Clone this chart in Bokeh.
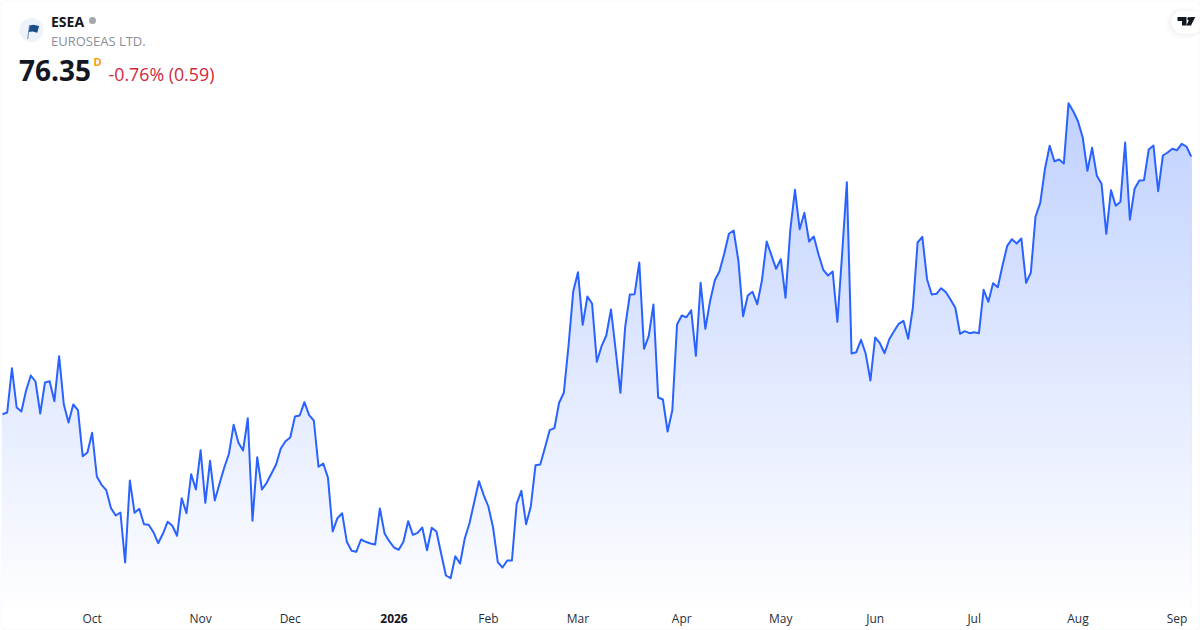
from bokeh.plotting import figure
from bokeh.models import Range1d, FixedTicker, Label, BoxAnnotation, PolyAnnotation
from bokeh.embed import file_html
from bokeh.resources import INLINE
import numpy as np

close = [50.58,50.75,55.18,51.25,50.85,52.95,54.45,53.85,50.65,53.75,53.88,51.88,56.38,51.55,49.75,51.55,50.98,46.38,46.75,48.72,
44.35,43.52,42.98,41.18,40.45,40.75,35.75,43.95,40.72,41.12,39.58,39.52,38.78,37.68,38.62,39.82,39.42,38.42,42.18,40.68,
44.58,43.05,46.98,41.72,45.92,41.95,43.62,45.22,46.62,49.52,47.75,46.95,50.18,39.92,46.28,43.05,43.72,44.62,45.55,47.15,
47.88,48.25,50.35,50.45,51.78,50.48,49.95,45.32,45.65,44.22,38.85,40.18,40.68,37.82,36.92,36.82,38.05,37.82,37.65,37.55,
41.15,38.65,37.88,37.25,37.02,37.82,39.88,38.52,38.72,39.25,36.98,39.22,38.85,36.62,34.45,34.18,36.38,35.65,38.15,39.68,
41.78,43.88,42.52,41.35,39.25,35.78,35.25,35.95,35.95,41.62,42.92,39.58,41.35,45.48,45.55,47.22,48.98,49.18,51.72,52.72,
57.45,62.88,64.78,59.52,62.35,61.62,55.82,57.38,58.45,61.05,56.95,52.72,59.28,62.55,62.58,65.75,57.12,58.38,61.55,52.25,
52.05,48.85,50.98,59.55,60.45,60.28,60.98,56.42,63.72,59.12,61.88,63.95,64.88,66.62,68.62,68.95,65.95,60.38,62.45,62.82,
61.58,63.95,67.85,66.48,65.12,66.08,62.22,68.95,73.02,69.08,70.72,67.85,68.35,66.55,65.02,64.45,64.85,59.82,66.62,73.78,
56.65,56.78,58.02,56.62,53.95,58.25,57.68,56.68,58.08,58.88,59.62,59.92,58.12,61.22,67.75,68.32,64.08,62.55,62.62,63.18,
62.78,62.02,61.22,58.62,58.88,58.68,58.78,58.68,63.02,61.82,63.68,63.28,65.45,67.42,68.08,67.65,68.15,63.72,64.72,70.35,
71.72,75.12,77.42,75.88,76.05,75.65,81.68,80.88,79.88,78.25,74.92,77.22,74.42,73.62,68.62,72.98,71.42,71.82,77.75,70.02,
73.12,73.95,73.98,77.05,77.45,72.88,76.45,76.75,77.12,76.98,77.62,77.35,76.35]

tick_positions = [19, 42, 61, 103, 122, 144, 165, 185, 206, 228, 249]
tick_labels = ["Oct", "Nov", "Dec", "Feb", "Mar", "Apr", "May", "Jun", "Jul", "Aug", "Sep"]
year_position = 83
year_label = "2026"

symbol = "ESEA"
company = "EUROSEAS LTD."
last_price = "76.35"
interval = "D"
change = "-0.76% (0.59)"

W, H = 1200, 630
PX_STEP, PX_OFF = 4.717, 2.0
def X(px): return (px - PX_OFF) / PX_STEP
def Y(py): return 91.95 - py / 10.0

p = figure(width=W, height=H, output_backend="svg", toolbar_location=None,
           x_range=Range1d(X(0), X(W)), y_range=Range1d(Y(H), Y(0)),
           min_border=0, min_border_left=0, min_border_right=0, min_border_top=0, min_border_bottom=0,
           background_fill_color="white", border_fill_color="white", outline_line_color=None)
p.styles = {"position": "absolute", "left": "0px", "top": "0px"}
p.grid.visible = False
p.yaxis.visible = False

idx = np.arange(len(close))
series = np.array(close)
fine_x = np.linspace(0, len(close) - 1, (len(close) - 1) * 4 + 1)
fine_y = np.interp(fine_x, idx, series)
base = Y(606)
top = series.max()
levels = np.arange(top, base, -0.6)
A_TOP, A_BOT = 0.29, 0.005
for lv in levels:
    a = A_BOT + (A_TOP - A_BOT) * (lv - base) / (top - base)
    col = "#%02x%02x%02x" % (round(255 - 214 * a), round(255 - 157 * a), 255)
    p.varea(fine_x, y1=np.full_like(fine_x, base), y2=np.minimum(fine_y, lv),
            fill_color=col, fill_alpha=1.0)

p.line(idx, series, line_color="#2962ff", line_width=2, line_join="round")

axis = p.xaxis[0]
axis.fixed_location = Y(598)
axis.ticker = FixedTicker(ticks=tick_positions)
axis.major_label_overrides = dict(zip(tick_positions, tick_labels))
axis.axis_line_color = None
axis.major_tick_line_color = None
axis.minor_tick_line_color = None
axis.major_label_text_font = "Open Sans"
axis.major_label_text_font_size = "12px"
axis.major_label_text_color = "#2a2e39"
axis.major_label_standoff = 5

def txt(x, y, t, size, color, bold=False, align="left"):
    p.add_layout(Label(x=X(x), y=Y(y), text=t, text_font="Open Sans", text_font_size=f"{size}px",
                       text_color=color, text_font_style="bold" if bold else "normal",
                       text_align=align, text_baseline="middle"))

txt(PX_OFF + year_position * PX_STEP, 618, year_label, 12, "#131722", True, "center")
txt(50.5, 21, symbol, 14, "#131722", True)
txt(50.5, 40.5, company, 13, "#8a8e99")
txt(18.5, 70, last_price, 28, "#131722", True)
txt(93, 61, interval, 11, "#ff9800", True)
txt(108, 73.5, change, 17.8, "#d1283e")

def box(l, r, t, b, **kw):
    p.add_layout(BoxAnnotation(left=X(l), right=X(r), top=Y(t), bottom=Y(b), **kw))

# status dot, logo disc
box(88.5, 95.5, 16.5, 23.5, fill_color="#a5a8ad", fill_alpha=1, line_color=None, border_radius=4)
box(19, 43, 17.5, 41.5, fill_color="#eef2fa", fill_alpha=1, line_color=None, border_radius=12)
def poly(pts, color):
    p.add_layout(PolyAnnotation(xs=[X(a) for a, _ in pts], ys=[Y(b) for _, b in pts],
                                fill_color=color, fill_alpha=1, line_color=None))
poly([(29.0, 25), (33, 24.2), (38.6, 25.5), (36.8, 32.2), (32, 31), (28.3, 31.6)], "#1a4f8b")
poly([(28.6, 24.6), (29.4, 24.6), (27.6, 38.5), (26.7, 38.5)], "#5b86b8")

# attribution pill
for i in range(6, 0, -1):
    box(1171 - i, 1203, 10 - i * 0.5, 33 + i, fill_color="#000000", fill_alpha=0.008, line_color=None, border_radius=12 + i)
box(1171, 1203, 10, 33, fill_color="#ffffff", fill_alpha=1, line_color=None, border_radius=12)
poly([(1177, 16.5), (1186, 16.5), (1186, 25), (1181.5, 25), (1181.5, 20.5), (1177, 20.5)], "#131722")
poly([(1190, 16.5), (1194.8, 16.5), (1190.5, 25), (1185.8, 25)], "#131722")
box(1186.8, 1190.2, 16.5, 20, fill_color="#131722", fill_alpha=1, line_color=None, border_radius=2)

# card border
box(0.5, 1199.5, 0.5, 629.5, fill_color=None, fill_alpha=0, line_color="#e0e3eb", line_width=1, border_radius=4)

open("out.html", "w").write(file_html(p, INLINE))
